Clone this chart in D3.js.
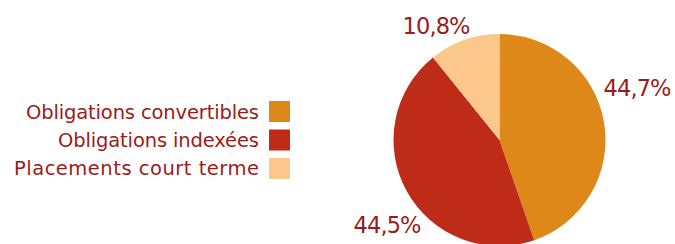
<!DOCTYPE html>
<html><head><meta charset="utf-8">
<script src="https://cdn.jsdelivr.net/npm/d3@7"></script>
<style>
html,body{margin:0;padding:0;background:#fff;}
svg{display:block;}
text{font-family:"DejaVu Sans",sans-serif;fill:#9a1b1c;}
</style></head>
<body><svg id="c" width="675" height="244"></svg>
<script>
const categories = ["Obligations convertibles", "Obligations indexées", "Placements court terme"];
const values = [44.7, 44.5, 10.8];
const valueLabels = ["44,7%", "44,5%", "10,8%"];
const colors = ["#df881a", "#be2b19", "#fbc78b"];

const svg = d3.select("#c");
const cx = 499.5, cy = 140, R = 106;

const pie = d3.pie().sort(null).value(d => d)(values);
const arc = d3.arc().innerRadius(0).outerRadius(R);
const g = svg.append("g").attr("transform", `translate(${cx},${cy})`);
g.selectAll("path").data(pie).join("path")
  .attr("d", arc).attr("fill", (d, i) => colors[i]);

// label placement (layout only): offsets from pie centre of the label's centre
const labelOffsets = [[138, -52], [-112, 85], [-63, -114]];
g.selectAll("text.v").data(pie).join("text").attr("class", "v")
  .attr("x", (d, i) => labelOffsets[i][0])
  .attr("y", (d, i) => labelOffsets[i][1])
  .attr("text-anchor", "middle")
  .attr("dominant-baseline", "central")
  .attr("font-size", 22.5)
  .attr("textLength", 68)
  .text((d, i) => valueLabels[i]);

// legend (layout: rendered text widths to mimic the original wide face)
const legendTextWidths = [233, 201, 245];
const ly = d3.scaleBand().domain(categories).range([101, 179]).paddingInner(0.263);
const lg = svg.append("g");
const rows = lg.selectAll("g").data(categories).join("g")
  .attr("transform", d => `translate(0,${ly(d)})`);
rows.append("rect").attr("x", 269).attr("width", 21).attr("height", ly.bandwidth())
  .attr("fill", (d, i) => colors[i]);
rows.append("text").attr("x", 259).attr("y", 17.5)
  .attr("text-anchor", "end").attr("font-size", 19.5)
  .attr("textLength", (d, i) => legendTextWidths[i])
  .attr("lengthAdjust", "spacing")
  .text(d => d);
</script></body></html>
